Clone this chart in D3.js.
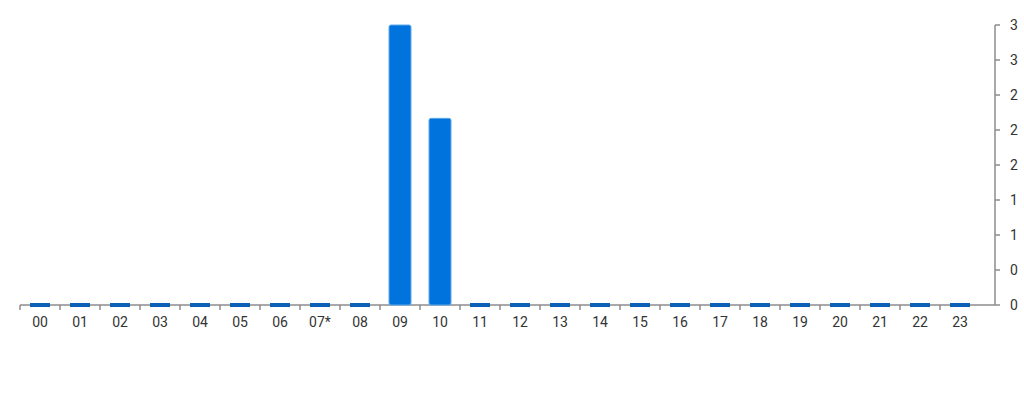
<!DOCTYPE html>
<html><head><meta charset="utf-8">
<script src="https://cdn.jsdelivr.net/npm/d3@7"></script>
<style>html,body{margin:0;padding:0;background:#fff;}svg{display:block;font-family:Roboto,"Noto Sans",sans-serif;}</style>
</head><body><svg id="c" width="1024" height="400"></svg>
<script>
const categories = ["00","01","02","03","04","05","06","07*","08","09","10","11","12","13","14","15","16","17","18","19","20","21","22","23"];
const values = [0,0,0,0,0,0,0,0,0,3,2,0,0,0,0,0,0,0,0,0,0,0,0,0];
const yTicks = [0,0.375,0.75,1.125,1.5,1.875,2.25,2.625,3];

const svg = d3.select("#c");
const mLeft = 20, mRight = 980, axisX = 995, mTop = 25, mBottom = 305;
const xb = d3.scaleBand().domain(categories).range([mLeft, mRight]);
const y = d3.scaleLinear().domain([0, 3]).range([mBottom, mTop]);

// x axis
const gx = svg.append("g");
gx.append("line").attr("x1", mLeft).attr("x2", axisX).attr("y1", mBottom).attr("y2", mBottom).attr("stroke", "#8c8c8c").attr("stroke-width", 1.5);
gx.selectAll("line.t").data(categories).enter().append("line").attr("class","t")
  .attr("x1", d => xb(d)).attr("x2", d => xb(d)).attr("y1", mBottom).attr("y2", mBottom + 5)
  .attr("stroke", "#8c8c8c").attr("stroke-width", 1.5);
gx.selectAll("text").data(categories).enter().append("text")
  .attr("x", d => xb(d) + xb.bandwidth()/2).attr("y", mBottom + 22)
  .attr("text-anchor", "middle").attr("font-size", 14).attr("fill", "#333").text(d => d);

// y axis (right)
const gy = svg.append("g");
gy.append("line").attr("x1", axisX).attr("x2", axisX).attr("y1", mTop).attr("y2", mBottom).attr("stroke", "#8c8c8c").attr("stroke-width", 1.5);
gy.selectAll("line.t").data(yTicks).enter().append("line").attr("class","t")
  .attr("x1", axisX).attr("x2", axisX + 5).attr("y1", d => y(d)).attr("y2", d => y(d))
  .attr("stroke", "#8c8c8c").attr("stroke-width", 1.5);
gy.selectAll("text").data(yTicks).enter().append("text")
  .attr("x", axisX + 15).attr("y", d => y(d)).attr("dy", "0.35em")
  .attr("text-anchor", "start").attr("font-size", 14).attr("fill", "#333").text(d => d3.format(".0f")(d));

// bars
const data = categories.map((c, i) => ({c, v: values[i]}));
svg.selectAll("rect.z").data(data.filter(d => d.v === 0)).enter().append("rect").attr("class","z")
  .attr("x", d => xb(d.c) + 10).attr("width", 20)
  .attr("y", y(0) - 2).attr("height", 4).attr("fill", "#0d62b8");
svg.selectAll("rect.b").data(data.filter(d => d.v > 0)).enter().append("rect").attr("class","b")
  .attr("x", d => xb(d.c) + 9).attr("width", 22)
  .attr("y", d => y(d.v)).attr("height", d => y(0) - y(d.v))
  .attr("rx", 2).attr("fill", "#0073dd").attr("stroke", "#5ea8ec").attr("stroke-width", 1);
</script></body></html>
